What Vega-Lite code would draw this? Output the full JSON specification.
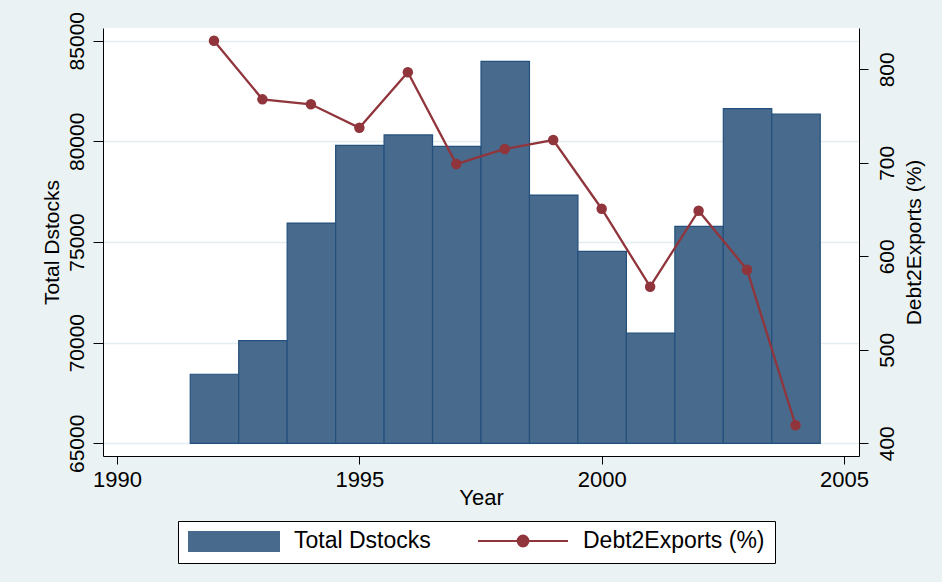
{
  "$schema": "https://vega.github.io/schema/vega-lite/v6.json",
  "width": 756,
  "height": 428,
  "autosize": {"type": "none"},
  "padding": {"left": 103, "top": 28, "right": 83, "bottom": 126},
  "background": "#EAF2F3",
  "config": {
    "font": "Liberation Sans",
    "view": {"fill": "white", "stroke": null},
    "axis": {
      "labelFont": "Liberation Sans",
      "titleFont": "Liberation Sans",
      "labelColor": "black",
      "titleColor": "black",
      "titleFontWeight": "normal",
      "domainColor": "black",
      "tickColor": "black",
      "domainWidth": 1,
      "tickWidth": 1,
      "labelFontSize": 21,
      "titleFontSize": 21,
      "grid": false,
      "labelOverlap": false,
      "labelFlush": false
    }
  },
  "data": {
    "values": [
      {"year": 1992, "stocks": 68430, "debt": 830.6},
      {"year": 1993, "stocks": 70100, "debt": 767.9},
      {"year": 1994, "stocks": 75940, "debt": 762.6},
      {"year": 1995, "stocks": 79800, "debt": 737.5},
      {"year": 1996, "stocks": 80320, "debt": 796.8},
      {"year": 1997, "stocks": 79750, "debt": 698.7},
      {"year": 1998, "stocks": 83970, "debt": 714.8},
      {"year": 1999, "stocks": 77330, "debt": 724.4},
      {"year": 2000, "stocks": 74530, "debt": 650.9},
      {"year": 2001, "stocks": 70480, "debt": 567.5},
      {"year": 2002, "stocks": 75780, "debt": 648.8},
      {"year": 2003, "stocks": 81630, "debt": 585.7},
      {"year": 2004, "stocks": 81350, "debt": 419.3}
    ]
  },
  "layer": [
    {
      "mark": {"type": "bar", "binSpacing": 0, "stroke": "#23507D", "strokeWidth": 1.2, "opacity": 1},
      "encoding": {
        "x": {
          "field": "year",
          "type": "quantitative",
          "bin": {"extent": [1991.5, 2004.5], "step": 1, "nice": false},
          "scale": {"domain": [1989.71, 2005.31], "nice": false, "zero": false},
          "axis": {"values": [1990, 1995, 2000, 2005], "format": "d", "title": "Year", "tickSize": 8, "labelPadding": 5, "titlePadding": -3, "labelFontSize": 22, "titleFontSize": 22}
        },
        "y": {
          "field": "stocks",
          "type": "quantitative",
          "scale": {"domain": [64370, 85630], "nice": false, "zero": false},
          "axis": {
            "title": "Total Dstocks",
            "values": [65000, 70000, 75000, 80000, 85000],
            "format": "d",
            "grid": true,
            "gridColor": "#E4EEF0",
            "gridWidth": 1.5,
            "labelAngle": 270,
            "labelAlign": "center",
            "labelBaseline": "alphabetic",
            "tickSize": 10,
            "labelPadding": 10,
            "titleAngle": 270,
            "titleBaseline": "alphabetic",
            "titlePadding": 8
          }
        },
        "y2": {"datum": 65000},
        "color": {
          "datum": "Total Dstocks",
          "scale": {"domain": ["Total Dstocks", "Debt2Exports (%)"], "range": ["#486A8C", "#90353B"]},
          "legend": {
            "title": null,
            "orient": "none",
            "legendX": 75,
            "legendY": 493,
            "direction": "horizontal",
            "columns": 2,
            "symbolSize": 8100,
            "symbolStrokeWidth": 2,
            "clipHeight": 20,
            "labelFont": "Liberation Sans",
            "labelFontSize": 23,
            "labelColor": "black",
            "labelOffset": 14,
            "labelLimit": 400,
            "columnPadding": 46,
            "padding": 10,
            "strokeColor": "black",
            "fillColor": "white",
            "cornerRadius": 0,
            "encoding": {
              "symbols": {
                "shape": {"value": {"expr": "datum.value === 'Total Dstocks' ? 'M-1,-0.222H1V0.222H-1Z' : 'M-1,0H1M-0.12,0A0.12,0.12,0,1,0,0.12,0A0.12,0.12,0,1,0,-0.12,0Z'"}},
                "fill": {"value": {"expr": "datum.value === 'Total Dstocks' ? '#486A8C' : '#90353B'"}},
                "stroke": {"value": {"expr": "datum.value === 'Total Dstocks' ? '#23507D' : '#90353B'"}},
                "opacity": {"value": 1},
                "fillOpacity": {"value": 1},
                "strokeOpacity": {"value": 1}
              }
            }
          }
        }
      }
    },
    {
      "encoding": {
        "x": {
          "field": "year",
          "type": "quantitative",
          "scale": {"domain": [1989.71, 2005.31], "nice": false, "zero": false},
          "axis": {"values": [1990, 1995, 2000, 2005], "format": "d", "title": "Year", "tickSize": 8, "labelPadding": 5, "titlePadding": -3, "labelFontSize": 22, "titleFontSize": 22}
        },
        "y": {
          "field": "debt",
          "type": "quantitative",
          "scale": {"domain": [386.4, 844.2], "nice": false, "zero": false},
          "axis": {
            "orient": "right",
            "title": "Debt2Exports (%)",
            "values": [400, 500, 600, 700, 800],
            "format": "d",
            "labelAngle": 270,
            "labelAlign": "center",
            "labelBaseline": "top",
            "tickSize": 9,
            "labelPadding": 8,
            "titleAngle": 270,
            "titleBaseline": "top",
            "titlePadding": 6
          }
        },
        "color": {
          "datum": "Debt2Exports (%)",
          "scale": {"domain": ["Total Dstocks", "Debt2Exports (%)"], "range": ["#486A8C", "#90353B"]},
          "legend": {
            "title": null,
            "orient": "none",
            "legendX": 75,
            "legendY": 493,
            "direction": "horizontal",
            "columns": 2,
            "symbolSize": 8100,
            "symbolStrokeWidth": 2,
            "clipHeight": 20,
            "labelFont": "Liberation Sans",
            "labelFontSize": 23,
            "labelColor": "black",
            "labelOffset": 14,
            "labelLimit": 400,
            "columnPadding": 46,
            "padding": 10,
            "strokeColor": "black",
            "fillColor": "white",
            "cornerRadius": 0,
            "encoding": {
              "symbols": {
                "shape": {"value": {"expr": "datum.value === 'Total Dstocks' ? 'M-1,-0.222H1V0.222H-1Z' : 'M-1,0H1M-0.12,0A0.12,0.12,0,1,0,0.12,0A0.12,0.12,0,1,0,-0.12,0Z'"}},
                "fill": {"value": {"expr": "datum.value === 'Total Dstocks' ? '#486A8C' : '#90353B'"}},
                "stroke": {"value": {"expr": "datum.value === 'Total Dstocks' ? '#23507D' : '#90353B'"}},
                "opacity": {"value": 1},
                "fillOpacity": {"value": 1},
                "strokeOpacity": {"value": 1}
              }
            }
          }
        }
      },
      "layer": [
        {"mark": {"type": "line", "strokeWidth": 2.3}},
        {"mark": {"type": "point", "filled": true, "size": 110, "opacity": 1}}
      ]
    }
  ],
  "resolve": {"scale": {"y": "independent"}}
}
